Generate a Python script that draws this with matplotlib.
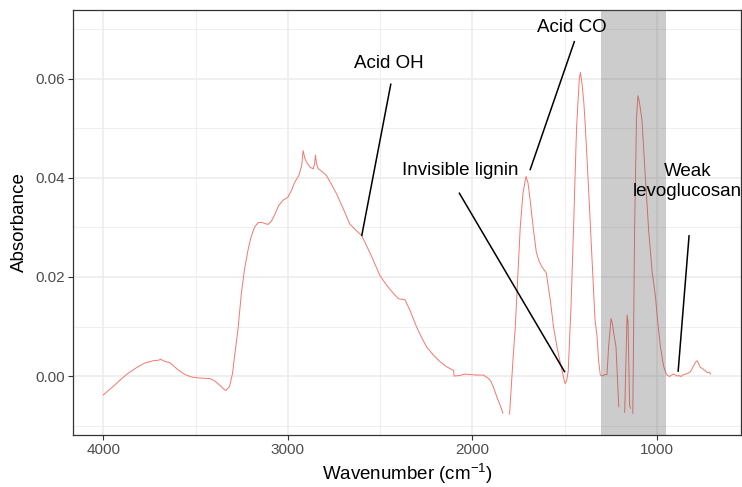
import matplotlib
matplotlib.use("Agg")
import matplotlib.pyplot as plt
import numpy as np

plt.rcParams["font.family"] = ["Liberation Sans", "DejaVu Sans"]
plt.rcParams["mathtext.default"] = "regular"

# spectrum (wavenumber, absorbance)
wavenumber = [
    4000, 3950, 3900, 3868, 3820, 3777, 3730, 3700, 3690, 3670, 3640, 3624,
    3600, 3570, 3551, 3520, 3480, 3424, 3400, 3370, 3345, 3335, 3316, 3300,
    3289, 3270, 3252, 3235, 3216, 3200, 3180, 3160, 3140, 3108, 3090, 3071,
    3050, 3026, 3000, 2980, 2963, 2940, 2925, 2917, 2908, 2899, 2880, 2863,
    2855, 2850, 2845, 2836, 2815, 2791, 2765, 2736, 2700, 2664, 2630, 2600,
    2550, 2501, 2464, 2430, 2400, 2380, 2365, 2338, 2302, 2275, 2248, 2210,
    2175, 2140, 2101, 2099, 2070, 2040, 2012, 1980, 1940, 1915, 1900, 1885,
    1867, 1850, 1834, 1816, 1798, 1780, 1767, 1752, 1740, 1725, 1709, 1698,
    1686, 1670, 1653, 1638, 1622, 1608, 1599, 1588, 1577, 1560, 1541, 1525,
    1514, 1500, 1496, 1488, 1480, 1465, 1451, 1435, 1420, 1414, 1405, 1395,
    1387, 1370, 1351, 1335, 1324, 1315, 1306, 1298, 1288, 1280, 1270, 1261,
    1248, 1240, 1233, 1221, 1206, 1190, 1174, 1161, 1156, 1147, 1143, 1136,
    1130, 1120, 1110, 1102, 1095, 1080, 1065, 1044, 1025, 1007, 995, 980,
    970, 962, 952, 944, 931, 920, 907, 898, 890, 880, 871, 858, 844, 830,
    817, 807, 799, 790, 781, 772, 763, 755, 745, 735, 726, 716, 708,
]
absorbance = [
    -0.0038, -0.0022, -0.0005, 0.0005, 0.0017, 0.0026, 0.0031, 0.0032, 0.0034, 0.0030, 0.0027, 0.0022,
    0.0014, 0.0006, 0.0002, -0.0002, -0.0004, -0.0005, -0.0009, -0.0018, -0.0027, -0.0029, -0.0021, 0.0005,
    0.0039, 0.0095, 0.0167, 0.0215, 0.0254, 0.0280, 0.0301, 0.0310, 0.0310, 0.0306, 0.0312, 0.0326,
    0.0344, 0.0355, 0.0361, 0.0375, 0.0391, 0.0405, 0.0425, 0.0455, 0.0440, 0.0432, 0.0422, 0.0418,
    0.0428, 0.0446, 0.0430, 0.0419, 0.0413, 0.0405, 0.0388, 0.0368, 0.0338, 0.0307, 0.0294, 0.0284,
    0.0245, 0.0203, 0.0183, 0.0168, 0.0156, 0.0155, 0.0154, 0.0133, 0.0099, 0.0078, 0.0059, 0.0042,
    0.0029, 0.0019, 0.0011, 0.0000, 0.0001, 0.0004, 0.0003, 0.0002, 0.0002, -0.0004, -0.0010, -0.0023,
    -0.0042, -0.0058, -0.0075, -0.0110, -0.0077, 0.0030, 0.0099, 0.0210, 0.0301, 0.0370, 0.0403, 0.0390,
    0.0354, 0.0300, 0.0250, 0.0232, 0.0220, 0.0213, 0.0208, 0.0180, 0.0153, 0.0100, 0.0059, 0.0030,
    0.0012, -0.0012, -0.0015, -0.0008, 0.0010, 0.0140, 0.0301, 0.0500, 0.0600, 0.0613, 0.0590, 0.0550,
    0.0502, 0.0380, 0.0234, 0.0115, 0.0080, 0.0030, 0.0002, 0.0000, 0.0002, 0.0003, 0.0003, 0.0059,
    0.0116, 0.0105, 0.0086, 0.0059, -0.0062, -0.0120, -0.0073, 0.0123, 0.0110, -0.0060, -0.0065, -0.0100,
    -0.0075, 0.0300, 0.0520, 0.0566, 0.0555, 0.0516, 0.0420, 0.0294, 0.0210, 0.0160, 0.0110, 0.0059,
    0.0035, 0.0019, 0.0008, 0.0002, -0.0001, 0.0002, 0.0004, 0.0002, 0.0000, 0.0001, -0.0001, 0.0002, 0.0004, 0.0006,
    0.0009, 0.0016, 0.0022, 0.0028, 0.0031, 0.0024, 0.0017, 0.0016, 0.0013, 0.0010, 0.0007, 0.0008, 0.0004,
]

# annotations
labels = ["Acid OH", "Acid CO", "Invisible lignin", "Weak\nlevoglucosan"]
label_x = [2450, 1460, 2066, 832]
label_y = [0.063, 0.0704, 0.0415, 0.0393]
seg_x = [2442, 1447, 2070, 825]
seg_xend = [2599, 1686, 1500, 884]
seg_y = [0.0589, 0.0675, 0.0369, 0.0283]
seg_yend = [0.0284, 0.0417, 0.0009, 0.0010]

y_limits = (-0.008, 0.07)
shade = (950, 1300)

x = np.array(wavenumber, dtype=float)
y = np.array(absorbance, dtype=float)
# values outside the y limits are dropped, which breaks the line
y = np.where((y < y_limits[0]) | (y > y_limits[1]), np.nan, y)

fig = plt.figure(figsize=(7.42, 4.87), dpi=100)
ax = fig.add_axes([73 / 742, 1 - 435 / 487, 668 / 742, 425 / 487])

ax.plot(x, y, color="#F8766D", lw=0.7, zorder=2)
ax.axvspan(shade[0], shade[1], color="#595959", alpha=0.3, lw=0, zorder=3)

for lab, tx, ty in zip(labels, label_x, label_y):
    ax.text(tx, ty, lab, ha="center", va="center", fontsize=13.5,
            linespacing=1.25, zorder=4, clip_on=False)
for x0, x1, y0, y1 in zip(seg_x, seg_xend, seg_y, seg_yend):
    ax.plot([x0, x1], [y0, y1], color="black", lw=1.1, zorder=4)

span = y_limits[1] - y_limits[0]
ax.set_ylim(y_limits[0] - 0.05 * span, y_limits[1] + 0.05 * span)
xspan = max(wavenumber) - min(wavenumber)
ax.set_xlim(max(wavenumber) + 0.05 * xspan, min(wavenumber) - 0.05 * xspan)

ax.set_xticks([4000, 3000, 2000, 1000])
ax.set_xticks([3500, 2500, 1500], minor=True)
ax.set_yticks([0.0, 0.02, 0.04, 0.06])
ax.set_yticklabels(["0.00", "0.02", "0.04", "0.06"])
ax.set_yticks([-0.01, 0.01, 0.03, 0.05, 0.07], minor=True)

ax.grid(which="major", color="#EBEBEB", lw=1.1, zorder=0)
ax.grid(which="minor", color="#EBEBEB", lw=0.55, zorder=0)
ax.set_axisbelow(True)
ax.tick_params(which="major", length=3.5, width=0.8, color="#333333",
               labelsize=11, labelcolor="#4D4D4D", pad=2.5)
ax.tick_params(which="minor", length=0)
for s in ax.spines.values():
    s.set_color("#333333")
    s.set_linewidth(0.9)

ax.set_xlabel("Wavenumber (cm$^{-1}$)", fontsize=13.5, labelpad=3)
ax.set_ylabel("Absorbance", fontsize=13.5, labelpad=5)

fig.savefig("out.png", dpi=100)
